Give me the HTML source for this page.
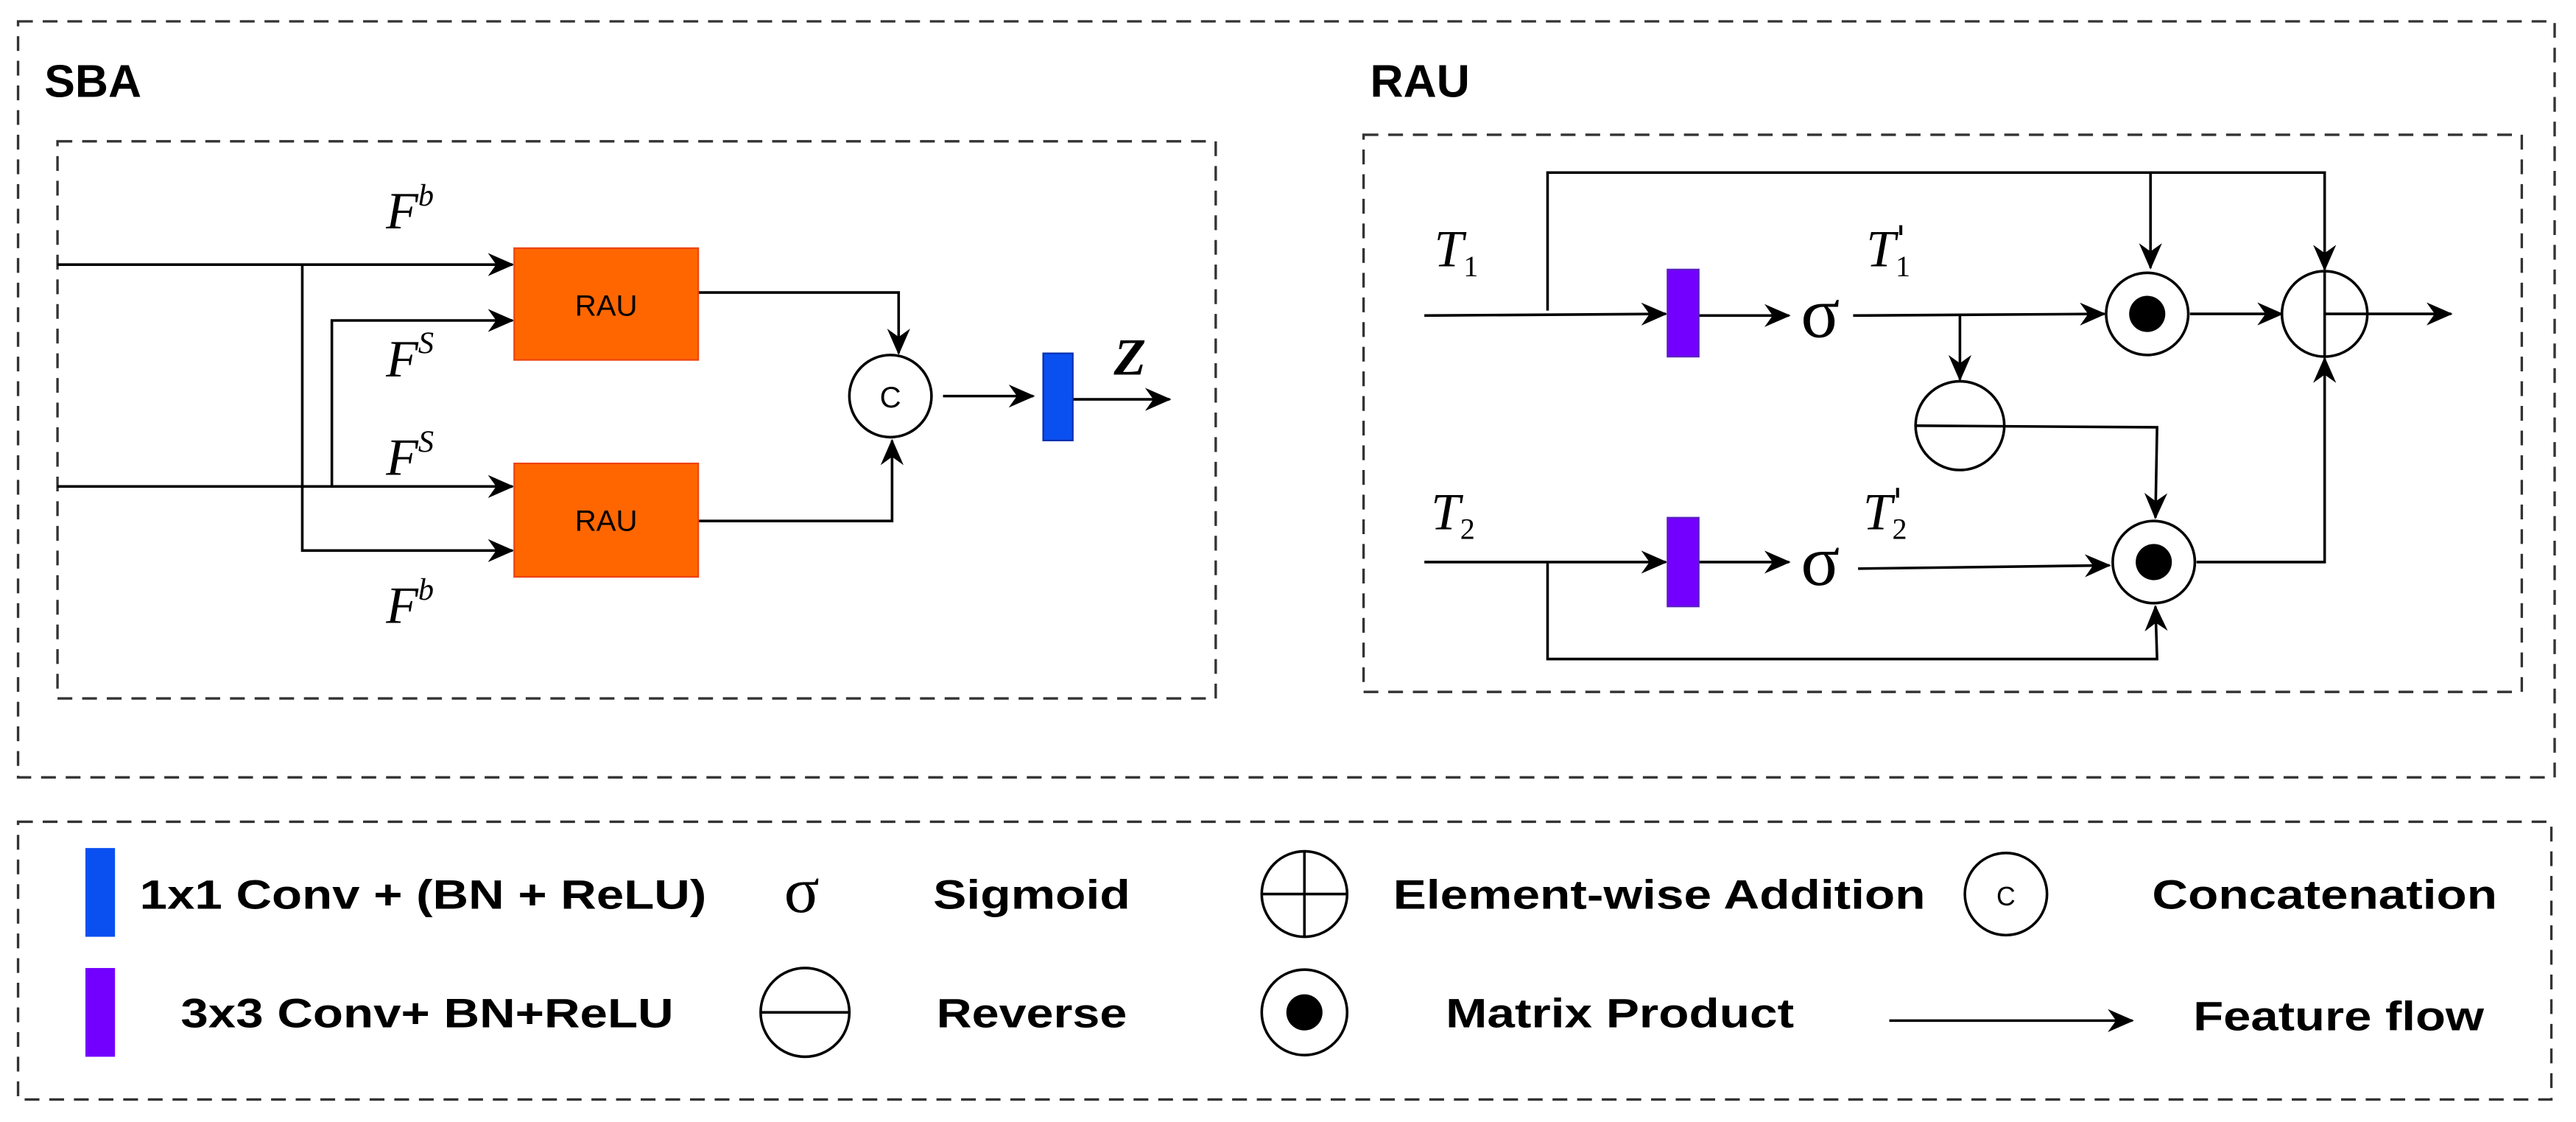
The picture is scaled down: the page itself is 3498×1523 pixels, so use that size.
<!DOCTYPE html>
<html><head><meta charset="utf-8"><style>html,body{margin:0;padding:0;background:#fff}svg{display:block}</style></head>
<body>
<svg width="3498" height="1523" viewBox="0 0 1568 682.7" preserveAspectRatio="none" xmlns="http://www.w3.org/2000/svg">
<defs>
<marker id="a" markerUnits="userSpaceOnUse" markerWidth="16" markerHeight="14" refX="15" refY="7" orient="auto">
<path d="M0,0 L16,7 L0,14 L5,7 z" fill="#000"/>
</marker>
</defs>
<g fill="none" stroke="#333" stroke-width="1.5" stroke-dasharray="9,6">
<rect x="11" y="13" width="1544" height="460"/>
<rect x="35" y="86" width="705" height="339"/>
<rect x="830" y="82" width="705" height="339"/>
<rect x="11" y="500" width="1542" height="169"/>
</g>
<g font-family="Liberation Sans, Arial, sans-serif" font-weight="bold" font-size="28" fill="#000">
<text x="27" y="59">SBA</text>
<text x="834" y="59">RAU</text>
</g>
<!-- SBA -->
<g stroke="#000" stroke-width="1.6" fill="none">
<polyline points="35,161 312,161" marker-end="url(#a)"/>
<polyline points="184,161 184,335 312,335" marker-end="url(#a)"/>
<polyline points="35,296 312,296" marker-end="url(#a)"/>
<polyline points="202,296 202,195 312,195" marker-end="url(#a)"/>
<polyline points="425,178 547,178 547,215" marker-end="url(#a)"/>
<polyline points="425,317 543,317 543,268" marker-end="url(#a)"/>
<polyline points="574,241 629,241" marker-end="url(#a)"/>
<polyline points="653,243 712,243" marker-end="url(#a)"/>
<circle cx="542" cy="241" r="25"/>
</g>
<rect x="313" y="151" width="112" height="68" fill="#ff6600" stroke="#ee4411" stroke-width="1"/>
<rect x="313" y="282" width="112" height="69" fill="#ff6600" stroke="#ee4411" stroke-width="1"/>
<rect x="635" y="215" width="18" height="53" fill="#0a4ff0" stroke="#0530b0" stroke-width="1"/>
<g font-family="Liberation Sans, Arial, sans-serif" font-size="18" fill="#000" text-anchor="middle">
<text x="369" y="192">RAU</text>
<text x="369" y="323">RAU</text>
<text x="542" y="248" font-size="18">C</text>
</g>
<g font-family="Liberation Serif, serif" font-style="italic" font-size="32" fill="#000">
<text x="235" y="139">F<tspan font-size="19" dy="-14">b</tspan></text>
<text x="235" y="229">F<tspan font-size="19" dy="-14">S</tspan></text>
<text x="235" y="289">F<tspan font-size="19" dy="-14">S</tspan></text>
<text x="235" y="379">F<tspan font-size="19" dy="-14">b</tspan></text>
<text x="678" y="228" font-size="32" font-weight="bold">Z</text>
</g>
<!-- RAU -->
<g stroke="#000" stroke-width="1.6" fill="none">
<polyline points="867,192 1014,191" marker-end="url(#a)"/>
<polyline points="1034,192 1089,192" marker-end="url(#a)"/>
<polyline points="942,189 942,105 1415,105 1415,164" marker-end="url(#a)"/>
<polyline points="1309,105 1309,163" marker-end="url(#a)"/>
<polyline points="1128,192 1281,191" marker-end="url(#a)"/>
<polyline points="1333,191 1389,191" marker-end="url(#a)"/>
<polyline points="1415,191 1492,191" marker-end="url(#a)"/>
<polyline points="1193,192 1193,231" marker-end="url(#a)"/>
<polyline points="1166,259 1313,260 1312,315" marker-end="url(#a)"/>
<polyline points="867,342 1014,342" marker-end="url(#a)"/>
<polyline points="1034,342 1089,342" marker-end="url(#a)"/>
<polyline points="1131,346 1284,344" marker-end="url(#a)"/>
<polyline points="942,342 942,401 1313,401 1312,369" marker-end="url(#a)"/>
<polyline points="1337,342 1415,342 1415,218" marker-end="url(#a)"/>
<circle cx="1307" cy="191" r="25"/>
<circle cx="1415" cy="191" r="26"/>
<line x1="1415" y1="165" x2="1415" y2="217"/>
<circle cx="1193" cy="259" r="27"/>
<circle cx="1311" cy="342" r="25"/>
</g>
<circle cx="1307" cy="191" r="11" fill="#000"/>
<circle cx="1311" cy="342" r="11" fill="#000"/>
<rect x="1015" y="164" width="19" height="53" fill="#7300ff" stroke="#5a20c0" stroke-width="1"/>
<rect x="1015" y="315" width="19" height="54" fill="#7300ff" stroke="#5a20c0" stroke-width="1"/>
<g font-family="Liberation Serif, serif" font-size="44" fill="#000" text-anchor="middle">
<text x="1108" y="205">σ</text>
<text x="1108" y="356">σ</text>
</g>
<g font-family="Liberation Serif, serif" font-style="italic" font-size="32" fill="#000">
<text x="873" y="162">T<tspan font-size="18" font-style="normal" dy="6">1</tspan></text>
<text x="1136" y="162">T<tspan font-size="18" font-style="normal" dy="6">1</tspan></text>
<text x="871" y="322">T<tspan font-size="18" font-style="normal" dy="6">2</tspan></text>
<text x="1134" y="322">T<tspan font-size="18" font-style="normal" dy="6">2</tspan></text>
</g>
<g font-family="DejaVu Sans, sans-serif" font-size="22" fill="#000">
<text x="1154" y="153">'</text>
<text x="1152" y="313">'</text>
</g>
<!-- Legend -->
<rect x="52" y="516" width="18" height="54" fill="#0a4ff0"/>
<rect x="52" y="589" width="18" height="54" fill="#7300ff"/>
<g stroke="#000" stroke-width="1.6" fill="none">
<circle cx="794" cy="544" r="26"/>
<line x1="768" y1="544" x2="820" y2="544"/>
<line x1="794" y1="518" x2="794" y2="570"/>
<circle cx="1221" cy="544" r="25"/>
<circle cx="490" cy="616" r="27"/>
<line x1="463" y1="616" x2="517" y2="616"/>
<circle cx="794" cy="616" r="26"/>
<polyline points="1150,621 1298,621" marker-end="url(#a)"/>
</g>
<circle cx="794" cy="616" r="11" fill="#000"/>
<g font-family="Liberation Sans, Arial, sans-serif" font-weight="bold" font-size="25" fill="#000">
<text x="85" y="553" textLength="345" lengthAdjust="spacingAndGlyphs">1x1 Conv + (BN + ReLU)</text>
<text x="568" y="553" textLength="120" lengthAdjust="spacingAndGlyphs">Sigmoid</text>
<text x="848" y="553" textLength="324" lengthAdjust="spacingAndGlyphs">Element-wise Addition</text>
<text x="1310" y="553" textLength="210" lengthAdjust="spacingAndGlyphs">Concatenation</text>
<text x="110" y="625" textLength="300" lengthAdjust="spacingAndGlyphs">3x3 Conv+ BN+ReLU</text>
<text x="570" y="625" textLength="116" lengthAdjust="spacingAndGlyphs">Reverse</text>
<text x="880" y="625" textLength="212" lengthAdjust="spacingAndGlyphs">Matrix Product</text>
<text x="1335" y="627" textLength="177" lengthAdjust="spacingAndGlyphs">Feature flow</text>
</g>
<text x="488" y="555" font-family="Liberation Serif, serif" font-size="40" text-anchor="middle">σ</text>
<text x="1221" y="551" font-family="Liberation Sans, sans-serif" font-size="16" text-anchor="middle">C</text>
</svg>
</body></html>
